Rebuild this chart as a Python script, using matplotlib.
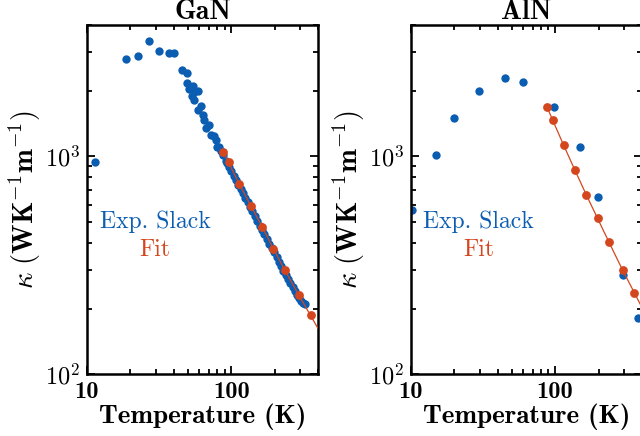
import math
import matplotlib
matplotlib.use("Agg")
import matplotlib.pyplot as plt
from matplotlib import ticker

plt.rcParams['font.family'] = ['cmb10', 'DejaVu Sans']
plt.rcParams['mathtext.fontset'] = 'cm'
plt.rcParams['axes.unicode_minus'] = False

BLUE = '#0b5db2'
RED = '#d4461d'

# GaN - experimental (Slack)
gan_exp_T = [11.4, 18.5, 22.4, 27.0, 31.8, 36.8, 39.8, 45.2, 49.4, 49.2, 51.3, 54.1,
             58.5, 55.6, 53.6, 55.6, 61.8, 58.5, 63.4, 65.2, 69.7, 66.9, 72.4, 76.3,
             78.4, 79.3, 82, 84.7, 88, 91.9, 94, 97, 100, 104, 108, 112, 116, 120,
             125, 130, 135, 140, 146, 152, 158, 164, 170, 177, 184, 191, 198, 206,
             214, 222, 230, 239, 248, 257, 266, 276, 286, 296, 306, 316, 324]
gan_exp_k = [943, 2806, 2904, 3405, 3033, 2994, 2994, 2500, 2415, 2183, 2037, 2094,
             1987, 1968, 1884, 1820, 1710, 1637, 1553, 1472, 1398, 1349, 1258, 1244,
             1193, 1100, 1110, 1054, 1010, 948, 930, 895, 860, 815, 775, 740, 707, 678,
             645, 614, 587, 561, 533, 506, 480, 459, 440, 418, 397, 378, 362, 344,
             328, 313, 299, 286, 274, 262, 252, 242, 232, 224, 216, 212, 210]

# GaN - fit
gan_fit_T = [88.2, 95.7, 113.5, 136.7, 164.4, 195.8, 234.6, 294.6, 354.5]
gan_fit_k = [1043, 938, 747, 594, 472, 377, 301, 230, 186]
gan_line_T = gan_fit_T + [420]
gan_line_k = gan_fit_k + [153]

# AlN - experimental (Slack)
aln_exp_T = [10.1, 15.0, 20.0, 29.9, 45.0, 59.5, 98.9, 149.6, 198, 295, 378]
aln_exp_k = [569, 1018, 1500, 2000, 2291, 2193, 1693, 1100, 649, 286, 181]

# AlN - fit
aln_fit_T = [88.2, 96, 114.8, 137.5, 164.4, 197, 236.7, 294, 355]
aln_fit_k = [1678, 1472, 1123, 862, 667, 519, 403, 300, 236]
aln_line_T = aln_fit_T + [420]
aln_line_k = aln_fit_k + [190]

fig = plt.figure(figsize=(6.4, 4.36), dpi=100)
ax1 = fig.add_axes([0.136, 0.142, 0.361, 0.800])
ax2 = fig.add_axes([0.642, 0.142, 0.361, 0.800])


def style_axis(ax, title):
    ax.set_xscale('log')
    ax.set_yscale('log')
    ax.set_xlim(10, 400)
    ax.set_ylim(100, 4000)
    ax.xaxis.set_major_formatter(ticker.FuncFormatter(lambda v, _: f'{v:g}'))
    ax.xaxis.set_minor_formatter(ticker.NullFormatter())
    ax.yaxis.set_major_formatter(
        ticker.FuncFormatter(lambda v, _: r'$\mathbf{10^{%d}}$' % round(math.log10(v))))
    ax.yaxis.set_minor_formatter(ticker.NullFormatter())
    ax.tick_params(which='both', direction='in', top=True, right=True, width=1.3)
    ax.tick_params(which='major', length=6, labelsize=17.5, pad=5)
    ax.tick_params(which='minor', length=3.5)
    for s in ax.spines.values():
        s.set_linewidth(1.8)
    ax.set_title(title, fontsize=20, pad=3)
    ax.set_xlabel('Temperature (K)', fontsize=19.5, labelpad=0)
    ax.set_ylabel(r'$\kappa\ \mathbf{(WK^{-1}m^{-1})}$', fontsize=20.5, labelpad=1)
    ax.text(0.294, 0.436, 'Exp. Slack', color=BLUE, fontsize=17, family='cmr10',
            ha='center', va='center', transform=ax.transAxes)
    ax.text(0.294, 0.355, 'Fit', color=RED, fontsize=17, family='cmr10',
            ha='center', va='center', transform=ax.transAxes)


ax1.scatter(gan_exp_T, gan_exp_k, s=36, color=BLUE, zorder=2, linewidths=0)
ax1.plot(gan_line_T, gan_line_k, color=RED, lw=0.9, zorder=3)
ax1.scatter(gan_fit_T, gan_fit_k, s=40, color=RED, zorder=4, linewidths=0)
style_axis(ax1, 'GaN')

ax2.scatter(aln_exp_T, aln_exp_k, s=36, color=BLUE, zorder=2, linewidths=0)
ax2.plot(aln_line_T, aln_line_k, color=RED, lw=0.9, zorder=3)
ax2.scatter(aln_fit_T, aln_fit_k, s=40, color=RED, zorder=4, linewidths=0)
style_axis(ax2, 'AlN')

fig.savefig('out.png', dpi=100)
